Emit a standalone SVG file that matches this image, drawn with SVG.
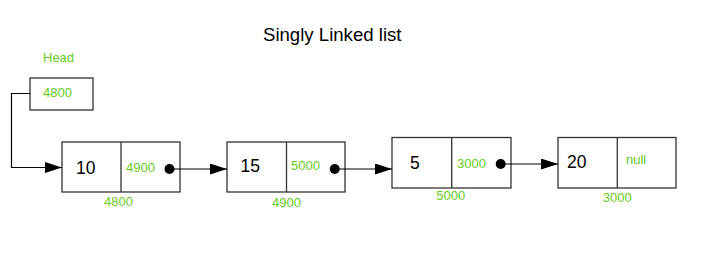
<svg xmlns="http://www.w3.org/2000/svg" width="716" height="254" viewBox="0 0 716 254">
<style>
.box{fill:#fff;stroke:#333;stroke-width:1.3}
.div{stroke:#333;stroke-width:1.3}
.g{fill:#66cc22;font-family:"Liberation Sans",Arial,sans-serif;font-size:13px}
.v{fill:#000;font-family:"Liberation Sans",Arial,sans-serif;font-size:17.5px}
.c{stroke:#000;stroke-width:1.2;fill:none}
.dot{fill:#000}
</style>
<defs>
<marker id="ah" markerUnits="userSpaceOnUse" markerWidth="18" markerHeight="12" refX="17" refY="5.5" orient="auto">
<path d="M0,0 L17,5.5 L0,11 Z" fill="#000"/>
</marker>
</defs>
<rect width="716" height="254" fill="#fff"/>
<text x="263" y="41" font-family="Liberation Sans,Arial,sans-serif" font-size="18.6" fill="#000">Singly Linked list</text>
<g id="head">
<text class="g" x="43" y="62">Head</text>
<rect class="box" x="30" y="78" width="63" height="32"/>
<text class="g" x="43" y="97">4800</text>
</g>
<g id="node1">
<rect class="box" x="62" y="142" width="118" height="50"/>
<line class="div" x1="121" y1="142" x2="121" y2="192"/>
<text class="v" x="76" y="174">10</text>
<text class="g" x="126" y="172">4900</text>
<text class="g" x="118.5" y="206" text-anchor="middle">4800</text>
</g>
<g id="node2">
<rect class="box" x="227" y="142" width="118" height="50"/>
<line class="div" x1="286.5" y1="142" x2="286.5" y2="192"/>
<text class="v" x="240.5" y="172">15</text>
<text class="g" x="291" y="170">5000</text>
<text class="g" x="286.5" y="207" text-anchor="middle">4900</text>
</g>
<g id="node3">
<rect class="box" x="392" y="137.5" width="119" height="50.5"/>
<line class="div" x1="451.7" y1="137.5" x2="451.7" y2="188"/>
<text class="v" x="410" y="168.5">5</text>
<text class="g" x="457" y="167.5">3000</text>
<text class="g" x="450.7" y="200" text-anchor="middle">5000</text>
</g>
<g id="node4">
<rect class="box" x="558" y="137.5" width="118" height="50.5"/>
<line class="div" x1="617.3" y1="137.5" x2="617.3" y2="188"/>
<text class="v" x="567" y="168">20</text>
<text class="g" x="626" y="163.5">null</text>
<text class="g" x="617.3" y="202" text-anchor="middle">3000</text>
</g>
<g id="connectors">
<path class="c" d="M30,93.5 H11.5 V167.5 H62" marker-end="url(#ah)"/>
<circle class="dot" cx="169.5" cy="169" r="5"/>
<path class="c" d="M169.5,169 H227" marker-end="url(#ah)"/>
<circle class="dot" cx="334.7" cy="169" r="5"/>
<path class="c" d="M334.7,169 H392" marker-end="url(#ah)"/>
<circle class="dot" cx="500.7" cy="164" r="5"/>
<path class="c" d="M500.7,164 H558" marker-end="url(#ah)"/>
</g>
</svg>
